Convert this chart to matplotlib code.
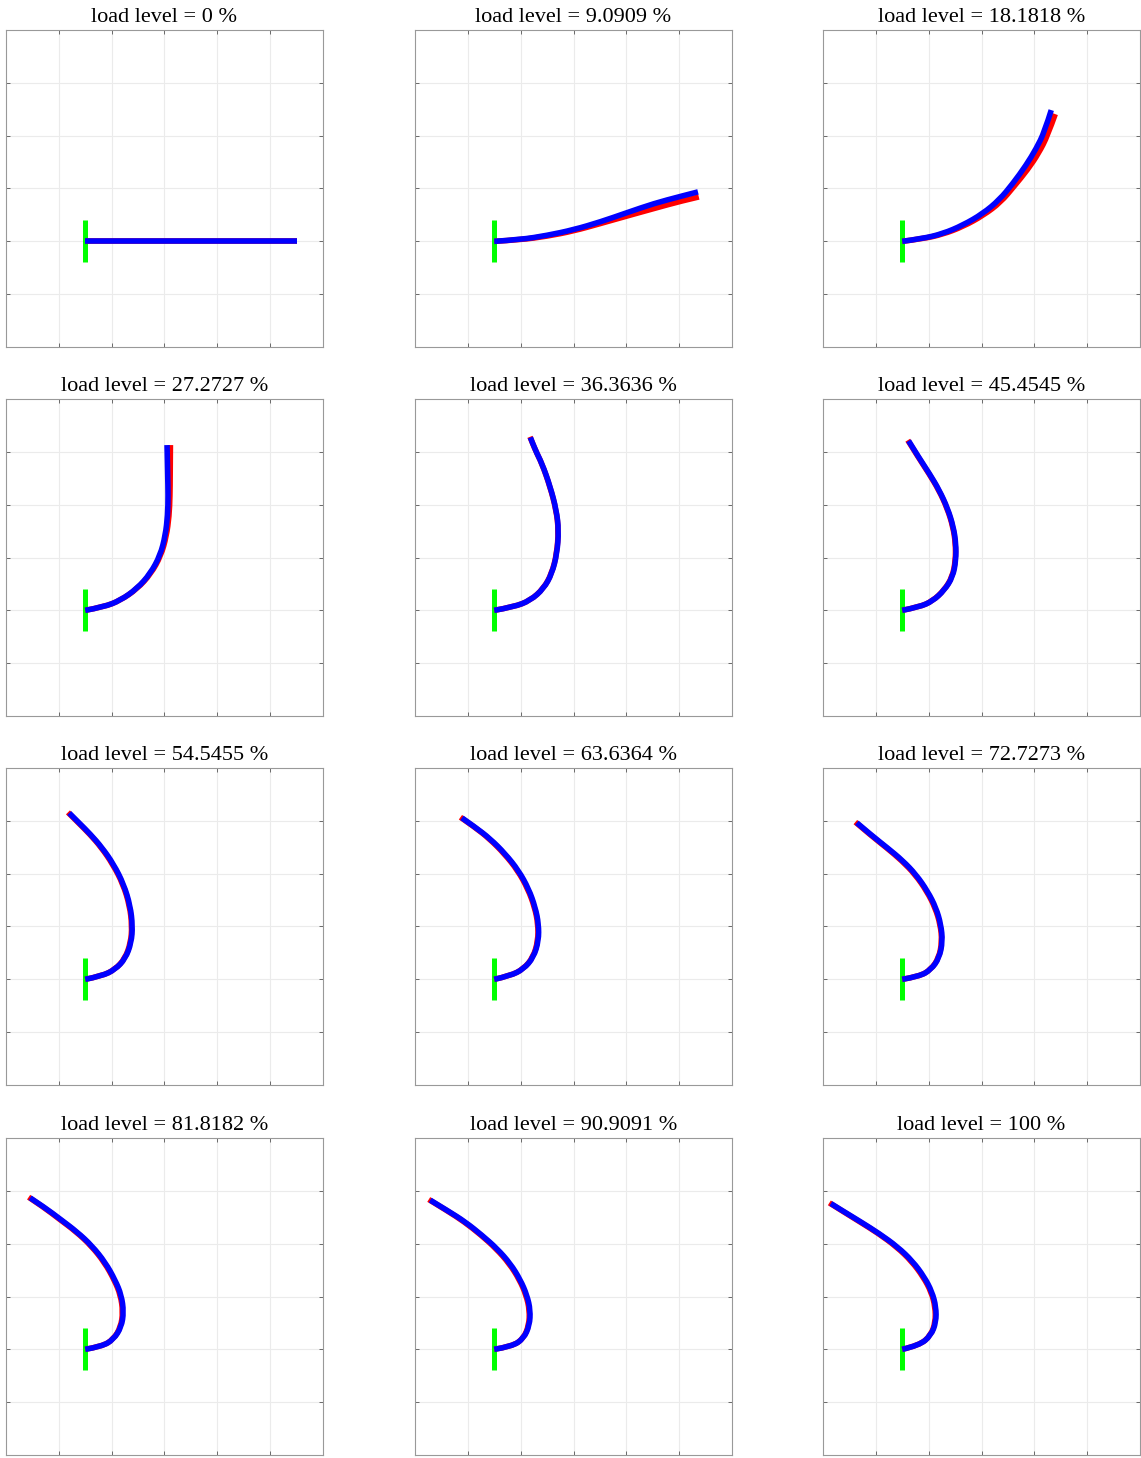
import matplotlib
matplotlib.use('Agg')
import matplotlib.pyplot as plt
from matplotlib.path import Path
from matplotlib.patches import PathPatch

plt.rcParams['font.family'] = ['Liberation Serif', 'DejaVu Serif']

# load levels shown in the panel titles
load_levels = ['0', '9.0909', '18.1818', '27.2727', '36.3636', '45.4545',
               '54.5455', '63.6364', '72.7273', '81.8182', '90.9091', '100']

# deformed beam axis, numerical solution (blue)
blue_x = [
    [0.0, 1.0],
    [0.0, 0.123, 0.250, 0.376, 0.502, 0.629, 0.755, 0.882, 0.964],
    [0.0, 0.096, 0.191, 0.286, 0.381, 0.460, 0.523, 0.586, 0.634, 0.673, 0.705],
    [0.0, 0.087, 0.166, 0.245, 0.308, 0.355, 0.379, 0.390, 0.392, 0.390, 0.387],
    [0.0, 0.092, 0.171, 0.234, 0.273, 0.297, 0.305, 0.294, 0.265, 0.226, 0.194, 0.171],
    [0.0, 0.081, 0.144, 0.199, 0.239, 0.254, 0.254, 0.242, 0.215, 0.175, 0.128, 0.081, 0.030],
    [0.0, 0.079, 0.142, 0.190, 0.218, 0.224, 0.213, 0.182, 0.134, 0.079, 0.024, -0.028, -0.076],
    [0.0, 0.076, 0.139, 0.186, 0.210, 0.210, 0.194, 0.163, 0.115, 0.052, -0.019, -0.090, -0.153],
    [0.0, 0.081, 0.136, 0.175, 0.191, 0.183, 0.160, 0.120, 0.065, 0.002, -0.070, -0.141, -0.215],
    [0.0, 0.079, 0.134, 0.171, 0.182, 0.171, 0.142, 0.095, 0.032, -0.039, -0.118, -0.190, -0.261],
    [0.0, 0.084, 0.139, 0.167, 0.171, 0.155, 0.123, 0.076, 0.013, -0.058, -0.137, -0.217, -0.303],
    [0.0, 0.081, 0.136, 0.160, 0.160, 0.141, 0.104, 0.049, -0.022, -0.109, -0.196, -0.275, -0.338],
]
blue_y = [
    [0.0, 0.0],
    [0.0, 0.008, 0.028, 0.055, 0.092, 0.136, 0.179, 0.213, 0.234],
    [0.0, 0.013, 0.036, 0.076, 0.131, 0.197, 0.273, 0.360, 0.439, 0.518, 0.621],
    [0.0, 0.016, 0.047, 0.103, 0.174, 0.261, 0.355, 0.450, 0.545, 0.640, 0.782],
    [0.0, 0.016, 0.047, 0.103, 0.174, 0.269, 0.379, 0.474, 0.585, 0.695, 0.758, 0.818],
    [0.0, 0.016, 0.044, 0.095, 0.158, 0.237, 0.316, 0.395, 0.482, 0.569, 0.648, 0.719, 0.802],
    [0.0, 0.016, 0.047, 0.098, 0.174, 0.253, 0.348, 0.450, 0.545, 0.624, 0.687, 0.739, 0.787],
    [0.0, 0.017, 0.049, 0.104, 0.183, 0.262, 0.341, 0.428, 0.515, 0.594, 0.665, 0.720, 0.764],
    [0.0, 0.014, 0.046, 0.101, 0.180, 0.259, 0.338, 0.417, 0.496, 0.562, 0.622, 0.678, 0.741],
    [0.0, 0.014, 0.047, 0.106, 0.177, 0.256, 0.327, 0.411, 0.490, 0.556, 0.616, 0.670, 0.717],
    [0.0, 0.014, 0.051, 0.114, 0.185, 0.256, 0.330, 0.406, 0.477, 0.540, 0.603, 0.654, 0.706],
    [0.0, 0.019, 0.066, 0.129, 0.200, 0.272, 0.343, 0.417, 0.485, 0.548, 0.603, 0.651, 0.690],
]

# reference solution (red)
red_x = [
    [0.0, 1.0],
    [0.0, 0.123, 0.250, 0.376, 0.502, 0.629, 0.755, 0.882, 0.968],
    [0.0, 0.096, 0.191, 0.288, 0.384, 0.466, 0.530, 0.594, 0.645, 0.688, 0.724],
    [0.0, 0.087, 0.166, 0.246, 0.310, 0.358, 0.384, 0.397, 0.401, 0.402, 0.403],
    [0.0, 0.092, 0.171, 0.233, 0.272, 0.296, 0.304, 0.293, 0.264, 0.225, 0.193, 0.169],
    [0.0, 0.081, 0.143, 0.198, 0.237, 0.252, 0.252, 0.240, 0.213, 0.173, 0.125, 0.078, 0.026],
    [0.0, 0.079, 0.141, 0.188, 0.215, 0.221, 0.210, 0.179, 0.130, 0.075, 0.020, -0.033, -0.082],
    [0.0, 0.076, 0.138, 0.184, 0.207, 0.207, 0.191, 0.159, 0.111, 0.048, -0.024, -0.095, -0.160],
    [0.0, 0.081, 0.135, 0.173, 0.188, 0.180, 0.156, 0.116, 0.061, -0.003, -0.075, -0.147, -0.222],
    [0.0, 0.079, 0.133, 0.168, 0.178, 0.167, 0.138, 0.091, 0.028, -0.044, -0.124, -0.196, -0.268],
    [0.0, 0.084, 0.138, 0.164, 0.167, 0.151, 0.119, 0.071, 0.008, -0.063, -0.143, -0.223, -0.310],
    [0.0, 0.081, 0.135, 0.157, 0.156, 0.137, 0.099, 0.044, -0.027, -0.114, -0.202, -0.281, -0.345],
]
red_y = [
    [0.0, 0.0],
    [0.0, 0.007, 0.024, 0.049, 0.084, 0.120, 0.155, 0.190, 0.210],
    [0.0, 0.012, 0.033, 0.070, 0.123, 0.185, 0.261, 0.340, 0.416, 0.500, 0.602],
    [0.0, 0.016, 0.047, 0.102, 0.172, 0.258, 0.350, 0.446, 0.541, 0.637, 0.782],
    [0.0, 0.016, 0.047, 0.103, 0.174, 0.269, 0.379, 0.474, 0.585, 0.696, 0.760, 0.821],
    [0.0, 0.016, 0.044, 0.095, 0.158, 0.237, 0.316, 0.395, 0.482, 0.569, 0.649, 0.721, 0.805],
    [0.0, 0.016, 0.047, 0.098, 0.174, 0.253, 0.348, 0.450, 0.545, 0.625, 0.688, 0.741, 0.790],
    [0.0, 0.017, 0.049, 0.104, 0.183, 0.262, 0.341, 0.428, 0.515, 0.594, 0.666, 0.722, 0.767],
    [0.0, 0.014, 0.046, 0.101, 0.180, 0.259, 0.338, 0.417, 0.496, 0.562, 0.623, 0.680, 0.744],
    [0.0, 0.014, 0.047, 0.106, 0.177, 0.256, 0.327, 0.411, 0.490, 0.557, 0.617, 0.672, 0.720],
    [0.0, 0.014, 0.051, 0.114, 0.185, 0.256, 0.330, 0.406, 0.477, 0.541, 0.604, 0.656, 0.709],
    [0.0, 0.019, 0.066, 0.129, 0.200, 0.272, 0.343, 0.417, 0.485, 0.549, 0.604, 0.653, 0.693],
]

# clamped support at the root of the beam
clamp_x = [0.0, 0.0]
clamp_y = [-0.1, 0.1]

grid_x = [-0.125, 0.125, 0.375, 0.625, 0.875]
grid_y = [-0.25, 0.0, 0.25, 0.5, 0.75]


def beam_path(xs, ys):
    # quadratic spline through the sampled points, rendered as a bezier path
    pts = list(zip(xs, ys))
    if len(pts) < 3:
        return Path(pts)
    verts = [pts[0]]
    codes = [Path.MOVETO]
    for k in range(1, len(pts) - 1):
        if k < len(pts) - 2:
            end = ((pts[k][0] + pts[k + 1][0]) / 2, (pts[k][1] + pts[k + 1][1]) / 2)
        else:
            end = pts[-1]
        verts += [pts[k], end]
        codes += [Path.CURVE3, Path.CURVE3]
    return Path(verts, codes)


W, H = 1141, 1458
fig = plt.figure(figsize=(W / 100, H / 100), dpi=100)

col_left = [6, 415, 823]
row_top = [30, 399, 768, 1138]
size = 317

for i in range(12):
    r, c = divmod(i, 3)
    ax = fig.add_axes([col_left[c] / W, 1 - (row_top[r] + size) / H, size / W, size / H])
    ax.plot(clamp_x, clamp_y, color=(0, 1, 0), lw=3.6, solid_capstyle='butt', zorder=3)
    for xs, ys, col, z in [(red_x[i], red_y[i], (1, 0, 0), 4),
                           (blue_x[i], blue_y[i], (0, 0, 1), 5)]:
        ax.add_patch(PathPatch(beam_path(xs, ys), fill=False, edgecolor=col, lw=4.0,
                               capstyle='butt', joinstyle='round', zorder=z))

    ax.set_xlim(-0.375, 1.125)
    ax.set_ylim(-0.5, 1.0)
    ax.set_xticks(grid_x)
    ax.set_yticks(grid_y)
    ax.set_xticklabels([])
    ax.set_yticklabels([])
    ax.tick_params(direction='in', length=3, width=0.6, color='#555555',
                   top=True, right=True)
    ax.grid(True, color='#ebebeb', lw=0.8)
    ax.set_axisbelow(True)
    for s in ax.spines.values():
        s.set_color('#999999')
        s.set_linewidth(0.8)
    ax.set_title('load level = %s %%' % load_levels[i], fontsize=16, pad=6)

fig.savefig('out.png', dpi=100)
